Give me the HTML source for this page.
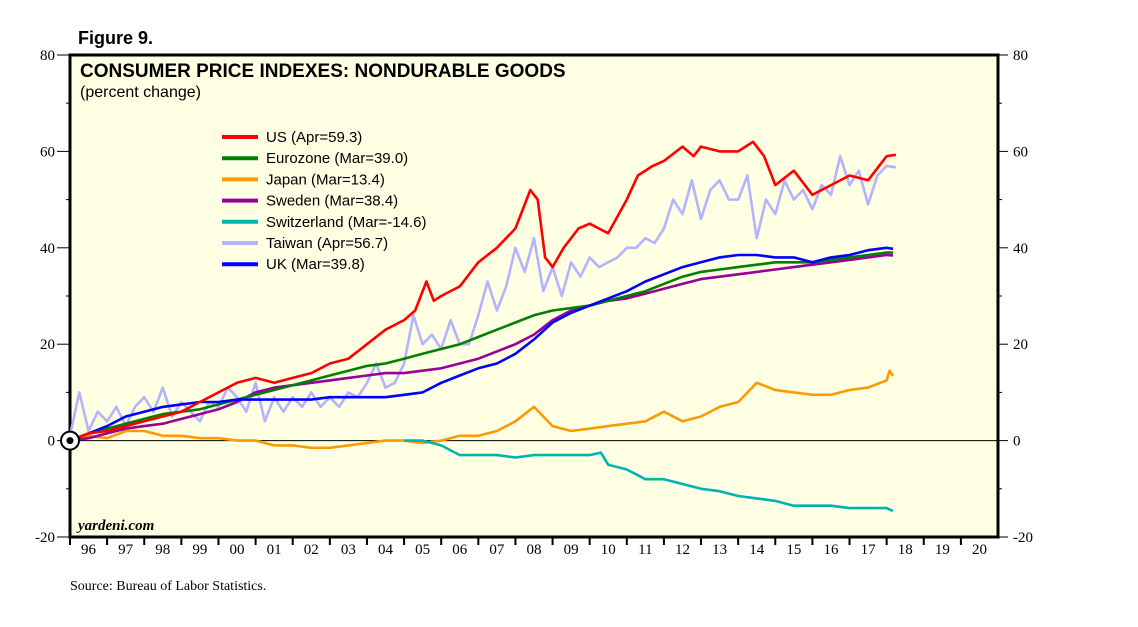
<!DOCTYPE html>
<html><head><meta charset="utf-8"><style>
body{margin:0;background:#fff;}
svg{display:block;font-family:"Liberation Sans",Arial,sans-serif;}
</style></head><body>
<svg id="chart" width="1138" height="627" xmlns="http://www.w3.org/2000/svg">
<text x="78" y="44" font-size="18" font-weight="bold">Figure 9.</text>
<rect x="70" y="55" width="928" height="482" fill="#ffffe3" stroke="#000" stroke-width="3"/>
<text x="80" y="77" font-size="19" font-weight="bold">CONSUMER PRICE INDEXES: NONDURABLE GOODS</text>
<text x="80" y="97" font-size="16">(percent change)</text>
<text x="78" y="530" font-size="15" font-style="italic" font-weight="bold" font-family="Liberation Serif,serif">yardeni.com</text>
<text x="70" y="590" font-size="14" font-family="Liberation Serif,serif">Source: Bureau of Labor Statistics.</text>
<g id="axes"></g><g id="series"></g><g id="legend"></g>
</svg>
<script>
const yTicks=[-20,0,20,40,60,80];
const xLabels=['96','97','98','99','00','01','02','03','04','05','06','07','08','09','10','11','12','13','14','15','16','17','18','19','20'];
const seriesNames=['US (Apr=59.3)','Eurozone (Mar=39.0)','Japan (Mar=13.4)','Sweden (Mar=38.4)','Switzerland (Mar=-14.6)','Taiwan (Apr=56.7)','UK (Mar=39.8)'];
const seriesColors=['#ff0000','#008000','#ff9900','#990099','#00b3b3','#b3b3ff','#0000ff'];
const us=[[1996,0],[1996.5,1.5],[1997,2],[1997.5,3],[1998,4],[1998.5,5],[1999,6],[1999.5,8],[2000,10],[2000.5,12],[2001,13],[2001.5,12],[2002,13],[2002.5,14],[2003,16],[2003.5,17],[2004,20],[2004.5,23],[2005,25],[2005.3,27],[2005.6,33],[2005.8,29],[2006,30],[2006.5,32],[2007,37],[2007.5,40],[2008,44],[2008.4,52],[2008.6,50],[2008.8,38],[2009,36],[2009.3,40],[2009.7,44],[2010,45],[2010.5,43],[2011,50],[2011.3,55],[2011.7,57],[2012,58],[2012.5,61],[2012.8,59],[2013,61],[2013.5,60],[2014,60],[2014.4,62],[2014.7,59],[2015,53],[2015.5,56],[2016,51],[2016.5,53],[2017,55],[2017.5,54],[2018,59],[2018.25,59.3]];
const taiwan=[[1996,1],[1996.25,10],[1996.5,2],[1996.75,6],[1997,4],[1997.25,7],[1997.5,3],[1997.75,7],[1998,9],[1998.25,6],[1998.5,11],[1998.75,5],[1999,8],[1999.25,6],[1999.5,4],[1999.75,8],[2000,7],[2000.25,11],[2000.5,9],[2000.75,6],[2001,12],[2001.25,4],[2001.5,9],[2001.75,6],[2002,9],[2002.25,7],[2002.5,10],[2002.75,7],[2003,9],[2003.25,7],[2003.5,10],[2003.75,9],[2004,12],[2004.25,16],[2004.5,11],[2004.75,12],[2005,16],[2005.25,26],[2005.5,20],[2005.75,22],[2006,19],[2006.25,25],[2006.5,20],[2006.75,20],[2007,26],[2007.25,33],[2007.5,27],[2007.75,32],[2008,40],[2008.25,35],[2008.5,42],[2008.75,31],[2009,36],[2009.25,30],[2009.5,37],[2009.75,34],[2010,38],[2010.25,36],[2010.5,37],[2010.75,38],[2011,40],[2011.25,40],[2011.5,42],[2011.75,41],[2012,44],[2012.25,50],[2012.5,47],[2012.75,54],[2013,46],[2013.25,52],[2013.5,54],[2013.75,50],[2014,50],[2014.25,55],[2014.5,42],[2014.75,50],[2015,47],[2015.25,54],[2015.5,50],[2015.75,52],[2016,48],[2016.25,53],[2016.5,51],[2016.75,59],[2017,53],[2017.25,56],[2017.5,49],[2017.75,55],[2018,57],[2018.25,56.7]];
const euro=[[1996,0],[1996.5,1.5],[1997,2.5],[1997.5,3.5],[1998,4.5],[1998.5,5.5],[1999,6],[1999.5,6.5],[2000,7.5],[2000.5,8.5],[2001,9.5],[2001.5,10.5],[2002,11.5],[2002.5,12.5],[2003,13.5],[2003.5,14.5],[2004,15.5],[2004.5,16],[2005,17],[2005.5,18],[2006,19],[2006.5,20],[2007,21.5],[2007.5,23],[2008,24.5],[2008.5,26],[2009,27],[2009.5,27.5],[2010,28],[2010.5,29],[2011,30],[2011.5,31],[2012,32.5],[2012.5,34],[2013,35],[2013.5,35.5],[2014,36],[2014.5,36.5],[2015,37],[2015.5,37],[2016,37],[2016.5,37.5],[2017,38],[2017.5,38.5],[2018,39],[2018.17,39]];
const japan=[[1996,0],[1996.5,1],[1997,0.5],[1997.5,2],[1998,2],[1998.5,1],[1999,1],[1999.5,0.5],[2000,0.5],[2000.5,0],[2001,0],[2001.5,-1],[2002,-1],[2002.5,-1.5],[2003,-1.5],[2003.5,-1],[2004,-0.5],[2004.5,0],[2005,0],[2005.5,-0.5],[2006,0],[2006.5,1],[2007,1],[2007.5,2],[2008,4],[2008.5,7],[2009,3],[2009.5,2],[2010,2.5],[2010.5,3],[2011,3.5],[2011.5,4],[2012,6],[2012.5,4],[2013,5],[2013.5,7],[2014,8],[2014.5,12],[2015,10.5],[2015.5,10],[2016,9.5],[2016.5,9.5],[2017,10.5],[2017.5,11],[2018,12.5],[2018.08,14.5],[2018.17,13.4]];
const sweden=[[1996,0],[1996.5,0.5],[1997,1.5],[1997.5,2.5],[1998,3],[1998.5,3.5],[1999,4.5],[1999.5,5.5],[2000,6.5],[2000.5,8],[2001,10],[2001.5,11],[2002,11.5],[2002.5,12],[2003,12.5],[2003.5,13],[2004,13.5],[2004.5,14],[2005,14],[2005.5,14.5],[2006,15],[2006.5,16],[2007,17],[2007.5,18.5],[2008,20],[2008.5,22],[2009,25],[2009.5,27],[2010,28],[2010.5,29],[2011,29.5],[2011.5,30.5],[2012,31.5],[2012.5,32.5],[2013,33.5],[2013.5,34],[2014,34.5],[2014.5,35],[2015,35.5],[2015.5,36],[2016,36.5],[2016.5,37],[2017,37.5],[2017.5,38],[2018,38.5],[2018.17,38.4]];
const swiss=[[2005,0],[2005.5,0],[2006,-1],[2006.5,-3],[2007,-3],[2007.5,-3],[2008,-3.5],[2008.5,-3],[2009,-3],[2009.5,-3],[2010,-3],[2010.3,-2.5],[2010.5,-5],[2011,-6],[2011.5,-8],[2012,-8],[2012.5,-9],[2013,-10],[2013.5,-10.5],[2014,-11.5],[2014.5,-12],[2015,-12.5],[2015.5,-13.5],[2016,-13.5],[2016.5,-13.5],[2017,-14],[2017.5,-14],[2018,-14],[2018.17,-14.6]];
const uk=[[1996,0],[1996.5,1.5],[1997,3],[1997.5,5],[1998,6],[1998.5,7],[1999,7.5],[1999.5,8],[2000,8],[2000.5,8.5],[2001,8.5],[2001.5,8.5],[2002,8.5],[2002.5,8.5],[2003,9],[2003.5,9],[2004,9],[2004.5,9],[2005,9.5],[2005.5,10],[2006,12],[2006.5,13.5],[2007,15],[2007.5,16],[2008,18],[2008.5,21],[2009,24.5],[2009.5,26.5],[2010,28],[2010.5,29.5],[2011,31],[2011.5,33],[2012,34.5],[2012.5,36],[2013,37],[2013.5,38],[2014,38.5],[2014.5,38.5],[2015,38],[2015.5,38],[2016,37],[2016.5,38],[2017,38.5],[2017.5,39.5],[2018,40],[2018.17,39.8]];
const drawOrder=[[japan,2],[swiss,4],[taiwan,5],[sweden,3],[euro,1],[uk,6],[us,0]];
const NS='http://www.w3.org/2000/svg';
const L=70,R=998,T=55,B=537,ymin=-20,ymax=80,x0=1996,x1=2021;
function X(t){return L+(t-x0)/(x1-x0)*(R-L);}
function Y(v){return B-(v-ymin)/(ymax-ymin)*(B-T);}
function mk(tag,attrs,parent){const e=document.createElementNS(NS,tag);for(const k in attrs)e.setAttribute(k,attrs[k]);parent.appendChild(e);return e;}
const ax=document.getElementById('axes');
for(let v=ymin;v<=ymax;v+=10){
  const major=yTicks.includes(v);
  const len=major?13:4;
  let t=mk('line',{x1:L-len,x2:L,y1:Y(v),y2:Y(v),stroke:'#000','stroke-width':1},ax);
  
  
  t=mk('line',{x1:R,x2:R+(major?10:4),y1:Y(v),y2:Y(v),stroke:'#000','stroke-width':1},ax);
  
  
}
yTicks.forEach(v=>{
  let t=mk('text',{x:L-15,y:Y(v)+5,'text-anchor':'end','font-size':15,'font-family':'Liberation Serif,serif'},ax);t.textContent=v;
  
  
  t=mk('text',{x:R+15,y:Y(v)+5,'font-size':15,'font-family':'Liberation Serif,serif'},ax);t.textContent=v;
  
  
});
let z=mk('line',{x1:L,x2:R,y1:Y(0),y2:Y(0),stroke:'#000','stroke-width':1},ax);


xLabels.forEach((s,i)=>{
  let t=mk('line',{x1:X(x0+i),x2:X(x0+i),y1:B,y2:B+8,stroke:'#000','stroke-width':2},ax);
  
  
  t=mk('text',{x:X(x0+i+0.5),y:B+17,'text-anchor':'middle','font-size':15,'font-family':'Liberation Serif,serif'},ax);t.textContent=s;
  
  
});
const sg=document.getElementById('series');
drawOrder.forEach(([d,ci])=>{
  const p=mk('path',{d:d.map((q,i)=>(i?'L':'M')+X(q[0]).toFixed(1)+','+Y(q[1]).toFixed(1)).join(''),fill:'none',stroke:seriesColors[ci],'stroke-width':2.6,'stroke-linejoin':'round'},sg);
  
  
});
let c=mk('circle',{cx:L,cy:Y(0),r:9,fill:'#fff',stroke:'#000','stroke-width':2},sg);


c=mk('circle',{cx:L,cy:Y(0),r:3.5,fill:'#000'},sg);


const lg=document.getElementById('legend');
seriesNames.forEach((n,i)=>{
  const y=137+i*21.2;
  let l=mk('line',{x1:222,x2:258,y1:y,y2:y,stroke:seriesColors[i],'stroke-width':4},lg);
  
  
  l=mk('text',{x:266,y:y+5,'font-size':15},lg);l.textContent=n;
  
  
});
</script>
</body></html>
